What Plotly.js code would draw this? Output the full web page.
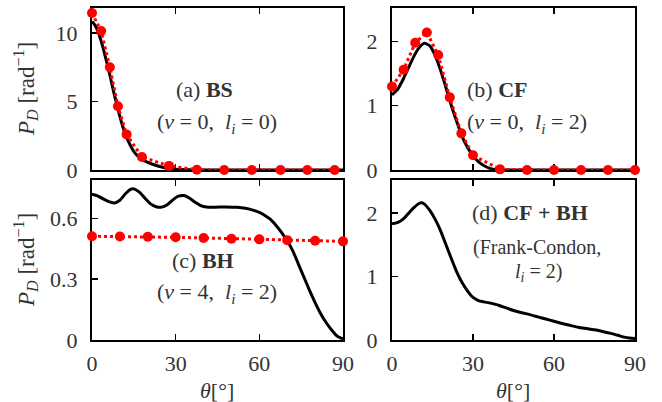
<!DOCTYPE html>
<html>
<head>
<meta charset="utf-8">
<script src="https://cdn.plot.ly/plotly-3.0.1.min.js"></script>
<style>html,body{margin:0;padding:0;background:#fff;}#chart{width:662px;height:402px;}</style>
</head>
<body>
<div id="chart"></div>
<script>
// ---- Data (theta in degrees, P_D in rad^-1) ----
// (a) BS : solid black curve
const thetaA = [0,1,2,3,4,5,6,7,8,9,10,11,12,13,14,15,16,18,20,22,25,28,32,36,40,50,60,70,80,90];
const pA = [10.85,10.6,10.2,9.6,8.9,8.1,7.3,6.4,5.5,4.7,3.9,3.2,2.6,2.1,1.7,1.35,1.1,0.78,0.55,0.4,0.22,0.1,0.04,0.01,0,0,0,0,0,0];
// (a) BS : red points
const thetaAPts = [0,3.3,6.4,9.3,12.4,17.9,27.6,37.6,47.4,57.3,67.6,77.2,87];
const pAPts = [11.46,10.15,7.5,4.65,2.6,0.95,0.3,0.02,0,0,0,0,0];

// (b) CF : solid black curve
const thetaB = [0,2,4,6,8,10,12,14,16,18,20,22,24,26,28,30,32,34,36,38,40,50,60,70,80,90];
const pB = [1.17,1.25,1.4,1.58,1.76,1.9,1.97,1.93,1.78,1.55,1.28,1.0,0.75,0.52,0.35,0.22,0.13,0.07,0.03,0.01,0,0,0,0,0,0];
// (b) CF : red points
const thetaBPts = [0,4.3,8.6,12.9,17.1,21.4,25.7,30,40,50,60,70,80,90];
const pBPts = [1.30,1.56,1.98,2.14,1.79,1.13,0.57,0.23,0.01,0,0,0,0,0];

// (c) BH : solid black curve
const thetaC = [0,2,4,6,8,10,12,14,15,17,19,21,23,25,27,29,31,33,35,37,39,41,44,48,52,55,58,60,62,64,66,68,70,72,74,76,78,80,82,84,86,88,90];
const pC = [0.72,0.712,0.697,0.683,0.677,0.69,0.722,0.745,0.746,0.73,0.70,0.672,0.658,0.656,0.668,0.692,0.71,0.713,0.70,0.68,0.664,0.657,0.656,0.657,0.655,0.65,0.64,0.63,0.615,0.595,0.565,0.53,0.49,0.44,0.375,0.31,0.245,0.185,0.13,0.085,0.048,0.018,0.005];
// (c) BH : red points
const thetaCPts = [0,10,20,30,40,50,60,70,80,90];
const pCPts = [0.512,0.511,0.510,0.507,0.504,0.500,0.497,0.493,0.490,0.487];

// (d) CF + BH : solid black curve
const thetaD = [0,2,4,6,8,10,11,12,14,16,18,20,22,24,26,28,30,32,34,36,38,40,42,45,48,51,54,57,60,63,66,69,72,75,78,81,84,86,88,90];
const pD = [1.83,1.85,1.9,1.99,2.08,2.15,2.16,2.14,2.04,1.9,1.72,1.5,1.28,1.07,0.9,0.77,0.67,0.62,0.6,0.585,0.565,0.54,0.51,0.465,0.43,0.4,0.365,0.33,0.295,0.26,0.23,0.2,0.18,0.16,0.135,0.105,0.07,0.045,0.03,0.025];

const xTicks = [0,30,60,90];
const yTicksA = [0,5,10], yTicksB = [0,1,2], yTicksC = [0,0.3,0.6], yTicksD = [0,1,2];
const yTickTextC = ['0','0.3','0.6'];

// ---- Styling ----
const FONT = 'Liberation Serif, Times New Roman, serif';
const TXT = '#333333';
const W = 662, H = 402;
const px = v => v / W;
const py = v => (H - v) / H;

function xAxis(domain, labels) {
  return {
    domain: domain, range: [0, 90], tickvals: xTicks, ticks: 'inside', ticklen: 6, tickwidth: 1.5,
    tickcolor: '#000', showline: true, linecolor: '#000', linewidth: 2, mirror: 'ticks',
    showgrid: false, zeroline: false, layer: 'below traces', showticklabels: labels,
    tickfont: {family: FONT, size: 22, color: TXT}, ticklabelstandoff: 3, fixedrange: true
  };
}
function yAxis(domain, range, tv, tt) {
  const a = {
    domain: domain, range: range, tickvals: tv, ticks: 'inside', ticklen: 6, tickwidth: 1.5,
    tickcolor: '#000', showline: true, linecolor: '#000', linewidth: 2, mirror: true,
    showgrid: false, zeroline: false, layer: 'below traces',
    tickfont: {family: FONT, size: 22, color: TXT}, ticklabelstandoff: 8, fixedrange: true
  };
  if (tt) a.ticktext = tt;
  return a;
}

const dxL = [px(92), px(343)], dxR = [px(392), px(635)];
const dyT = [py(170), py(8)], dyB = [py(340), py(180)];

function blk(x, y, xa, ya) {
  return {x: x, y: y, xaxis: xa, yaxis: ya, type: 'scatter', mode: 'lines', cliponaxis: false,
    line: {color: '#000', width: 3, shape: 'spline', smoothing: 0.6}, hoverinfo: 'skip'};
}
function red(x, y, xa, ya) {
  return {x: x, y: y, xaxis: xa, yaxis: ya, type: 'scatter', mode: 'lines+markers', cliponaxis: false,
    line: {color: '#ff0000', width: 3, dash: 'dot'}, marker: {color: '#ff0000', size: 10}, hoverinfo: 'skip'};
}

const data = [
  blk(thetaA, pA, 'x', 'y'), red(thetaAPts, pAPts, 'x', 'y'),
  blk(thetaB, pB, 'x2', 'y2'), red(thetaBPts, pBPts, 'x2', 'y2'),
  blk(thetaC, pC, 'x3', 'y3'), red(thetaCPts, pCPts, 'x3', 'y3'),
  blk(thetaD, pD, 'x4', 'y4')
];

function ann(text, x, y, extra) {
  return Object.assign({text: text, x: px(x), y: py(y), xref: 'paper', yref: 'paper',
    xanchor: 'center', yanchor: 'middle', showarrow: false,
    font: {family: FONT, size: 22, color: TXT}}, extra || {});
}
const S = '\u00a0';
const yTitle = '<i>P</i><sub><i>D</i></sub>' + S + '[rad<sup>−1</sup>]';
const xTitle = '<i>θ</i>[°]';

const layout = {
  width: W, height: H, margin: {l: 0, r: 0, t: 0, b: 0},
  paper_bgcolor: '#fff', plot_bgcolor: '#fff', showlegend: false,
  xaxis: xAxis(dxL, false), yaxis: yAxis(dyT, [0, 11.83], yTicksA),
  xaxis2: Object.assign(xAxis(dxR, false), {anchor: 'y2'}), yaxis2: Object.assign(yAxis(dyT, [0, 2.52], yTicksB), {anchor: 'x2'}),
  xaxis3: Object.assign(xAxis(dxL, true), {anchor: 'y3'}), yaxis3: Object.assign(yAxis(dyB, [0, 0.79], yTicksC, yTickTextC), {anchor: 'x3'}),
  xaxis4: Object.assign(xAxis(dxR, true), {anchor: 'y4'}), yaxis4: Object.assign(yAxis(dyB, [0, 2.52], yTicksD), {anchor: 'x4'}),
  annotations: [
    ann('(a)' + S + '<b>BS</b>', 204, 90),
    ann('(<i>ν</i>' + S + '=' + S + '0,' + S + S + '<i>l</i><sub><i>i</i></sub>' + S + '=' + S + '0)', 217, 123),
    ann('(b)' + S + '<b>CF</b>', 497, 90),
    ann('(<i>ν</i>' + S + '=' + S + '0,' + S + S + '<i>l</i><sub><i>i</i></sub>' + S + '=' + S + '2)', 527, 123),
    ann('(c)' + S + '<b>BH</b>', 203, 260),
    ann('(<i>ν</i>' + S + '=' + S + '4,' + S + S + '<i>l</i><sub><i>i</i></sub>' + S + '=' + S + '2)', 217, 293),
    ann('(d)' + S + '<b>CF' + S + '+' + S + 'BH</b>', 530, 212),
    ann('(Frank-Condon,', 537, 247, {font: {family: FONT, size: 20, color: TXT}}),
    ann('<i>l</i><sub><i>i</i></sub>' + S + '=' + S + '2)', 538, 272, {font: {family: FONT, size: 20, color: TXT}}),
    ann(yTitle, 25, 89, {textangle: -90, font: {family: FONT, size: 23, color: TXT}}),
    ann(yTitle, 25, 260, {textangle: -90, font: {family: FONT, size: 23, color: TXT}}),
    ann(xTitle, 217, 390),
    ann(xTitle, 513, 390)
  ]
};

Plotly.newPlot('chart', data, layout, {staticPlot: true, displayModeBar: false});
</script>
</body>
</html>
